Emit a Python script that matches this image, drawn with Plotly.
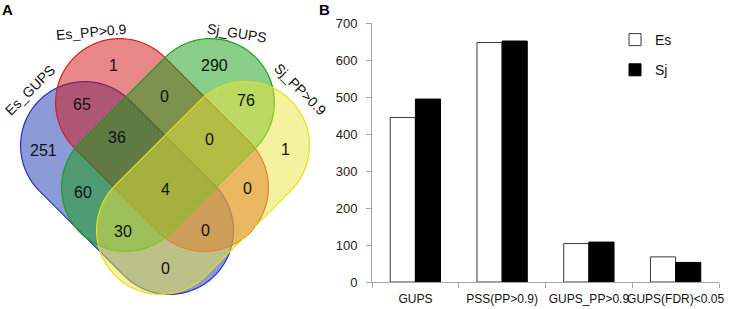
import numpy as np
import plotly.graph_objects as go

# ---------------- data ----------------
set_names = ["Es_GUPS", "Es_PP>0.9", "Sj_GUPS", "Sj_PP>0.9"]
region_sets = ["A", "B", "C", "D", "AB", "ABC", "BC", "CD", "AC", "ABCD", "BCD", "BD", "ACD", "ABD", "AD"]
region_counts = [251, 1, 290, 1, 65, 36, 0, 76, 60, 4, 0, 0, 30, 0, 0]

bar_categories = ["GUPS", "PSS(PP>0.9)", "GUPS_PP>0.9", "GUPS(FDR)<0.05"]
es_values = [445, 648, 104, 68]
sj_values = [495, 652, 108, 53]
y_ticks = [0, 100, 200, 300, 400, 500, 600, 700]

# ---------------- layout helpers ----------------
W, H = 737, 309
FONT = "Liberation Sans, Arial, sans-serif"

# Venn geometry (pixel space of the left panel)
r_cap, half_len = 64, 60
s2 = 1 / np.sqrt(2)
set_geom = {
    "A": dict(c=(127, 188), u=(s2, s2), fill="rgba(25,55,175,0.5)", line="#1f2fc8"),
    "B": dict(c=(162, 145), u=(s2, s2), fill="rgba(209,18,18,0.5)", line="#d42020"),
    "C": dict(c=(168, 145), u=(-s2, s2), fill="rgba(18,158,18,0.5)", line="#1d9e1d"),
    "D": dict(c=(203, 188), u=(-s2, s2), fill="rgba(236,230,60,0.5)", line="#e6df1c"),
}
region_pos = {
    "A": (43, 150), "B": (113, 65), "C": (214, 65), "D": (285, 149),
    "AB": (82, 104), "ABC": (117, 137), "BC": (164, 96), "CD": (246, 100),
    "AC": (83, 192), "ABCD": (165, 189), "BCD": (209, 139), "BD": (247, 188),
    "ACD": (123, 231), "ABD": (205, 230), "AD": (165, 268),
}
label_pos = [((30, 90), -45), ((91, 32), -5), ((237, 33), 9), ((300, 89), 45)]


def stadium_path(c, u, L, r, n=48):
    cx, cy = c
    ux, uy = u
    vx, vy = -uy, ux
    pts = []
    for sgn, t0, t1 in [(1, np.pi / 2, -np.pi / 2), (-1, -np.pi / 2, -3 * np.pi / 2)]:
        ccx, ccy = cx + sgn * L * ux, cy + sgn * L * uy
        for t in np.linspace(t0, t1, n):
            dx = np.cos(t) * ux + np.sin(t) * vx
            dy = np.cos(t) * uy + np.sin(t) * vy
            pts.append((ccx + r * dx, ccy + r * dy))
    return "M " + " L ".join(f"{x:.2f},{y:.2f}" for x, y in pts) + " Z"


fig = go.Figure()

# ---------------- bar chart ----------------
fig.add_trace(go.Bar(
    x=bar_categories, y=es_values, name="Es", legendgroup="es",
    marker=dict(color="white", line=dict(color="#3a3a3a", width=1)),
    xaxis="x", yaxis="y",
))
fig.add_trace(go.Bar(
    x=bar_categories, y=sj_values, name="Sj", legendgroup="sj",
    marker=dict(color="black", line=dict(color="black", width=1)),
    xaxis="x", yaxis="y",
))

# ---------------- venn shapes ----------------
shapes = []
for key in ["A", "B", "C", "D"]:
    g = set_geom[key]
    shapes.append(dict(
        type="path", xref="x2", yref="y2",
        path=stadium_path(g["c"], g["u"], half_len, r_cap),
        fillcolor=g["fill"], line=dict(color=g["line"], width=1.2),
        layer="above",
    ))

annotations = []
for key, cnt in zip(region_sets, region_counts):
    x, y = region_pos[key]
    annotations.append(dict(
        x=x, y=y, xref="x2", yref="y2", text=str(cnt), showarrow=False,
        font=dict(family=FONT, size=16, color="#111"),
    ))
for name, ((x, y), ang) in zip(set_names, label_pos):
    annotations.append(dict(
        x=x, y=y, xref="x2", yref="y2", text=name, showarrow=False,
        textangle=ang, font=dict(family=FONT, size=14, color="#111"),
    ))
# panel letters
for letter, px in [("A", 8), ("B", 324)]:
    annotations.append(dict(
        x=px / W, y=1 - 10 / H, xref="paper", yref="paper", text=f"<b>{letter}</b>",
        xanchor="center", yanchor="middle", showarrow=False,
        font=dict(family=FONT, size=15, color="black"),
    ))

fig.update_layout(
    width=W, height=H,
    margin=dict(l=0, r=0, t=0, b=0, autoexpand=False),
    paper_bgcolor="white", plot_bgcolor="white",
    barmode="group", bargap=0.42, bargroupgap=0,
    font=dict(family=FONT, size=13, color="#222"),
    shapes=shapes, annotations=annotations,
    showlegend=True,
    legend=dict(
        x=615 / W, y=1 - 24 / H, xanchor="left", yanchor="top",
        font=dict(family=FONT, size=14, color="#111"),
        bgcolor="rgba(0,0,0,0)", tracegroupgap=9, itemwidth=30,
        traceorder="grouped",
    ),
    xaxis=dict(
        domain=[372 / W, 719 / W], anchor="y", automargin=False,
        showline=True, linecolor="#a6a6a6", linewidth=1,
        ticks="outside", tickson="boundaries", ticklen=5, tickcolor="#a6a6a6",
        showgrid=False, tickangle=0,
        tickfont=dict(family=FONT, size=12, color="#111"),
        ticklabelstandoff=6,
    ),
    yaxis=dict(
        domain=[(H - 282) / H, (H - 23.3) / H], anchor="x", automargin=False,
        range=[0, 700], tickvals=y_ticks,
        showline=True, linecolor="#a6a6a6", linewidth=1,
        ticks="outside", ticklen=5, tickcolor="#a6a6a6",
        showgrid=False, zeroline=False,
        tickfont=dict(family=FONT, size=13, color="#222"),
        ticklabelstandoff=6,
    ),
    xaxis2=dict(domain=[0, 340 / W], range=[0, 340], anchor="y2", visible=False,
                fixedrange=True, automargin=False),
    yaxis2=dict(domain=[0, 1], range=[H, 0], anchor="x2", visible=False,
                fixedrange=True, automargin=False),
)

fig.write_html(
    "out.html",
    config={"displayModeBar": False},
    post_script="document.body.style.margin='0';document.body.style.padding='0';"
                "document.body.style.overflow='hidden';",
)
